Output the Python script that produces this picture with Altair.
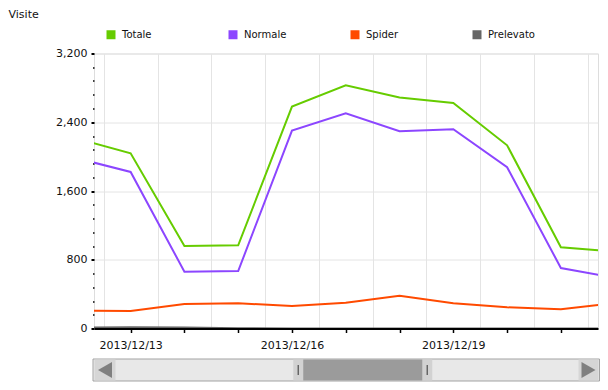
import altair as alt
import pandas as pd

# ---- data ----
dates = ["2013-12-12", "2013-12-13", "2013-12-14", "2013-12-15", "2013-12-16",
         "2013-12-17", "2013-12-18", "2013-12-19", "2013-12-20", "2013-12-21",
         "2013-12-22"]
totale = [2211, 2039, 960, 968, 2582, 2831, 2687, 2625, 2132, 945, 894]
normale = [1981, 1822, 661, 669, 2302, 2505, 2295, 2319, 1876, 704, 591]
spider = [208, 204, 285, 293, 262, 300, 382, 293, 247, 223, 297]
prelevato = [10, 14, 12, 3, 0, 0, 0, 0, 0, 0, 0]
series = ["Totale", "Normale", "Spider", "Prelevato"]
colors = ["#66cc00", "#8c46ff", "#ff4a00", "#666666"]
label_days = [13, 16, 19]

# visible window and navigator (scrollbar) range
view_start = "2013-12-12T07:39:00"
view_end = "2013-12-21T16:34:00"
nav_start = "2013-11-30T08:00:00"
nav_end = "2013-12-31T14:00:00"

FONT = "DejaVu Sans"
W, H = 504, 275

rows = []
for name, vals in zip(series, [totale, normale, spider, prelevato]):
    for d, v in zip(dates, vals):
        rows.append({"date": d + "T00:00:00", "series": name, "value": v})
df = pd.DataFrame(rows)


def dt(s):
    ts = pd.Timestamp(s)
    return alt.DateTime(year=ts.year, month=ts.month, date=ts.day,
                        hours=ts.hour, minutes=ts.minute)


vs, ve = pd.Timestamp(view_start), pd.Timestamp(view_end)
xdom = [dt(view_start), dt(view_end)]
tick_days = [dt(d) for d in dates if vs <= pd.Timestamp(d) <= ve]
noon_days = [dt(d + "T12:00:00") for d in dates if vs <= pd.Timestamp(d + "T12:00:00") <= ve]
y_vals = list(range(0, 3201, 160))
major_test = "datum.value % 800 === 0"
day_test = " || ".join(f"date(datum.value) === {d}" for d in label_days)

# vertical grid at mid-day
grid_layer = alt.Chart(df).mark_rule(opacity=0).encode(
    x=alt.X("date:T", scale=alt.Scale(domain=xdom),
            axis=alt.Axis(values=noon_days, grid=True, gridColor="#e4e4e4",
                          gridWidth=1, labels=False, ticks=False, domain=False,
                          title=None, orient="bottom"))
)

lines = alt.Chart(df).mark_line(strokeWidth=2, clip=True).encode(
    x=alt.X("date:T", scale=alt.Scale(domain=xdom),
            axis=alt.Axis(values=tick_days, grid=False, orient="bottom",
                          labelExpr=f"({day_test}) ? timeFormat(datum.value, '%Y/%m/%d') : ''",
                          labelOverlap=False, labelFlush=False,
                          domainColor="#000", domainWidth=2,
                          tickColor="#000", tickWidth=1.5, tickSize=4,
                          labelPadding=7, labelFont=FONT, labelFontSize=11,
                          labelColor="#111", title=None, zindex=1)),
    y=alt.Y("value:Q", scale=alt.Scale(domain=[0, 3200], nice=False),
            axis=alt.Axis(values=y_vals,
                          labelExpr=f"{major_test} ? format(datum.value, ',') : ''",
                          tickSize={"condition": {"test": major_test, "value": 3}, "value": 1.5},
                          tickWidth={"condition": {"test": major_test, "value": 2}, "value": 1.5},
                          tickColor="#000",
                          gridOpacity={"condition": {"test": major_test, "value": 1}, "value": 0},
                          gridColor="#e4e4e4", gridWidth=1,
                          domain=False, labelPadding=4, labelFont=FONT,
                          labelFontSize=11, labelColor="#111",
                          title="Visite", titleAngle=0, titleAlign="left",
                          titleBaseline="top", titleX=-86, titleY=-45,
                          titleFont=FONT, titleFontSize=11,
                          titleFontWeight="normal", titleColor="#111")),
    color=alt.Color("series:N", scale=alt.Scale(domain=series, range=colors),
                    legend=alt.Legend(orient="none", legendX=12, legendY=-24,
                                      direction="horizontal", columns=4,
                                      gridAlign="all", columnPadding=50,
                                      symbolType="square", symbolSize=9,
                                      symbolStrokeWidth=6, labelFont=FONT,
                                      labelFontSize=10, labelColor="#111",
                                      labelOffset=6, padding=0, title=None)),
)

# ---- navigator / scrollbar ----
one = pd.DataFrame({"start": [view_start], "end": [view_end]})
nav_scale = alt.Scale(domain=[dt(nav_start), dt(nav_end)], range=[21.5, 485])
yt, yb = 305.5, 327.5

frame = alt.Chart(one).mark_rect(fill="#e8e8e8", stroke="#a3a3a3", strokeWidth=1).encode(
    x=alt.value(-1), x2=alt.value(505.5), y=alt.value(yt), y2=alt.value(yb))
btn_l = alt.Chart(one).mark_rect(fill="#d6d6d6").encode(
    x=alt.value(0.5), x2=alt.value(21.5), y=alt.value(yt + 0.5), y2=alt.value(yb - 0.5))
btn_r = alt.Chart(one).mark_rect(fill="#d6d6d6").encode(
    x=alt.value(484.5), x2=alt.value(504.5), y=alt.value(yt + 0.5), y2=alt.value(yb - 0.5))
arr_l = alt.Chart(one).mark_point(shape="triangle-left", filled=True, fill="#808080",
                                  size=260, opacity=1, strokeWidth=0).encode(
    x=alt.value(11), y=alt.value((yt + yb) / 2))
arr_r = alt.Chart(one).mark_point(shape="triangle-right", filled=True, fill="#808080",
                                  size=260, opacity=1, strokeWidth=0).encode(
    x=alt.value(494.5), y=alt.value((yt + yb) / 2))
thumb_h = alt.Chart(one).mark_rect(fill="#d2d2d2").encode(
    x=alt.X("start:T", scale=nav_scale, axis=None),
    x2="end:T", y=alt.value(yt + 0.5), y2=alt.value(yb - 0.5))
thumb = alt.Chart(one).mark_rect(fill="#9b9b9b", xOffset=10, x2Offset=-10).encode(
    x=alt.X("start:T", scale=nav_scale, axis=None),
    x2="end:T", y=alt.value(yt + 0.5), y2=alt.value(yb - 0.5))
grip_l = alt.Chart(one).mark_rule(color="#666", strokeWidth=1.5, xOffset=5).encode(
    x=alt.X("start:T", scale=nav_scale, axis=None),
    y=alt.value(yt + 6), y2=alt.value(yb - 6))
grip_r = alt.Chart(one).mark_rule(color="#666", strokeWidth=1.5, xOffset=-5).encode(
    x=alt.X("end:T", scale=nav_scale, axis=None),
    y=alt.value(yt + 6), y2=alt.value(yb - 6))

chart = alt.layer(
    grid_layer, lines,
    frame, btn_l, btn_r, arr_l, arr_r, thumb_h, thumb, grip_l, grip_r
).resolve_scale(x="independent").properties(
    width=W, height=H,
    autosize=alt.AutoSizeParams(type="none"),
    padding={"left": 86, "top": 45.5, "right": 2, "bottom": 54},
).configure_view(stroke=None).configure(background="white")

chart.save("out.html", embed_options={"renderer": "svg", "actions": False})
